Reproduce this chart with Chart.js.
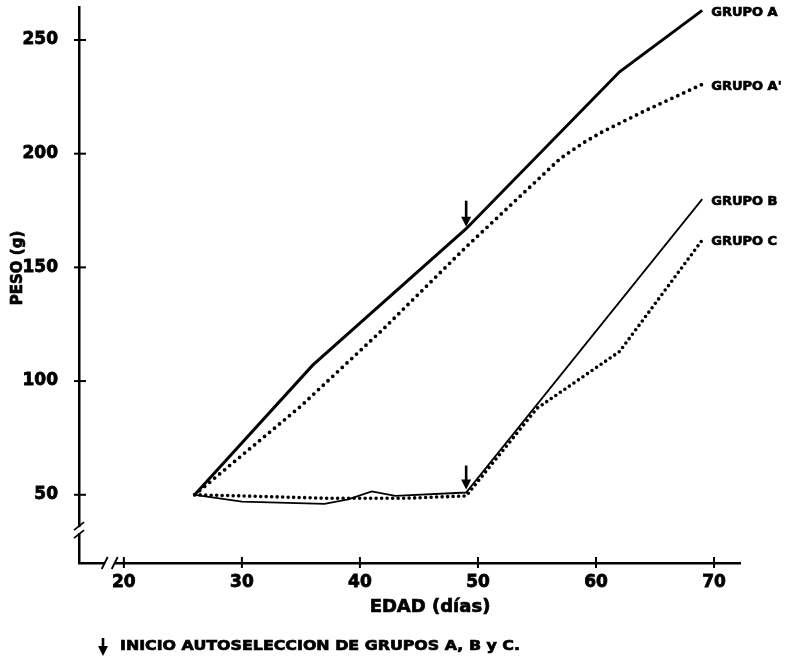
<!DOCTYPE html>
<html><head><meta charset="utf-8">
<script src="https://cdn.jsdelivr.net/npm/chart.js@4.4.0/dist/chart.umd.min.js"></script>
<style>html,body{margin:0;padding:0;background:#fff;}canvas{display:block}</style>
</head><body>
<canvas id="c" width="793" height="661"></canvas>
<script>
// ---- data ----
const xTicks = [20, 30, 40, 50, 60, 70];
const yTicks = [50, 100, 150, 200, 250];

const grupoA_x  = [26, 36, 49, 62, 69];
const grupoA_y  = [50, 107, 167, 236, 263];

const grupoA2_x = [26, 35, 42, 49, 57, 59, 60.5, 64, 66.5, 69];
const grupoA2_y = [50, 89, 123, 159, 198, 205, 209.5, 218.5, 224.5, 230.5];

const grupoB_x  = [26, 30, 37, 39, 41, 43, 49, 69];
const grupoB_y  = [50, 47, 46, 48, 51.5, 49.5, 51, 180];

const grupoC_x  = [26, 30, 37, 44, 49, 55, 62, 69];
const grupoC_y  = [50, 49.5, 48.5, 48.5, 49.5, 88, 113, 162];

const seriesNames = ['GRUPO A', "GRUPO A'", 'GRUPO B', 'GRUPO C'];
const arrowX = 49;   // inicio autoselección
const footnote = 'INICIO AUTOSELECCION DE GRUPOS A, B y C.';
const xTitle = 'EDAD (días)';
const yTitle = 'PESO (g)';

const pts = (xs, ys) => xs.map((x, i) => ({x, y: ys[i]}));
const BOLD = 'DejaVu Sans';

function heavyText(ctx, text, x, y) {
  ctx.lineWidth = 0.7; ctx.strokeText(text, x, y); ctx.fillText(text, x, y);
}
function fitText(ctx, text, x, y, width) {
  const w = ctx.measureText(text).width;
  ctx.save(); ctx.translate(x, y); ctx.scale(width / w, 1); heavyText(ctx, text, 0, 0); ctx.restore();
}

const overlay = {
  id: 'overlay',
  afterDraw(chart) {
    const {ctx, scales: {x, y}, chartArea: ca} = chart;
    ctx.save();
    ctx.strokeStyle = '#000'; ctx.fillStyle = '#000';
    // tick marks crossing the axes
    ctx.lineWidth = 2;
    yTicks.forEach(v => { const py = y.getPixelForValue(v);
      ctx.beginPath(); ctx.moveTo(ca.left - 5, py); ctx.lineTo(ca.left + 7, py); ctx.stroke(); });
    xTicks.forEach(v => { const px = x.getPixelForValue(v);
      ctx.beginPath(); ctx.moveTo(px, ca.bottom - 6); ctx.lineTo(px, ca.bottom + 5); ctx.stroke(); });
    // axis breaks
    const by = y.getPixelForValue(34);
    ctx.fillStyle = '#fff'; ctx.fillRect(ca.left - 3, by - 4, 6, 6); ctx.fillStyle = '#000';
    ctx.lineWidth = 1.8;
    [-6, 2].forEach(o => { ctx.beginPath(); ctx.moveTo(ca.left - 5, by + o + 5); ctx.lineTo(ca.left + 5, by + o - 3); ctx.stroke(); });
    const bx = x.getPixelForValue(18.8);
    ctx.fillStyle = '#fff'; ctx.fillRect(bx - 5, ca.bottom - 3, 10, 6); ctx.fillStyle = '#000';
    [-5, 5].forEach(o => { ctx.beginPath(); ctx.moveTo(bx + o - 3, ca.bottom + 6); ctx.lineTo(bx + o + 3, ca.bottom - 6); ctx.stroke(); });
    // axis titles
    ctx.textBaseline = 'middle'; ctx.textAlign = 'center';
    ctx.font = 'bold 18px ' + BOLD;
    heavyText(ctx, xTitle, 430, 607);
    ctx.save(); ctx.translate(18, 268); ctx.rotate(-Math.PI / 2);
    ctx.font = 'bold 15px ' + BOLD; heavyText(ctx, yTitle, 0, 0); ctx.restore();
    // group labels at line ends
    ctx.font = 'bold 13px ' + BOLD; ctx.textAlign = 'left';
    chart.data.datasets.forEach((ds, i) => {
      const last = ds.data[ds.data.length - 1];
      heavyText(ctx, seriesNames[i], x.getPixelForValue(last.x) + 9, y.getPixelForValue(last.y) + 2);
    });
    // arrows at the start of self-selection
    const arrow = (px, tipY, len) => {
      ctx.lineWidth = 2.6;
      ctx.beginPath(); ctx.moveTo(px, tipY - len); ctx.lineTo(px, tipY - 6); ctx.stroke();
      ctx.beginPath(); ctx.moveTo(px - 5, tipY - 10); ctx.lineTo(px + 5, tipY - 10); ctx.lineTo(px, tipY); ctx.closePath(); ctx.fill();
    };
    const ax = x.getPixelForValue(arrowX);
    arrow(ax, y.getPixelForValue(grupoA_y[2]) - 2, 26);
    arrow(ax, y.getPixelForValue(grupoB_y[6]) - 3, 24);
    // footnote
    arrow(103, 656, 18);
    ctx.font = 'bold 14px ' + BOLD; ctx.textBaseline = 'middle'; ctx.textAlign = 'left';
    fitText(ctx, footnote, 120, 646, 400);
    ctx.restore();
  }
};

const tickFont = {family: BOLD, size: 17, weight: 'bold'};

new Chart(document.getElementById('c'), {
  type: 'line',
  data: {
    datasets: [
      {label: seriesNames[0], data: pts(grupoA_x, grupoA_y), borderColor: '#000', borderWidth: 3, pointRadius: 0, tension: 0},
      {label: seriesNames[1], data: pts(grupoA2_x, grupoA2_y), borderColor: '#000', borderWidth: 3.8, borderDash: [0, 6.5], borderCapStyle: 'round', pointRadius: 0, tension: 0},
      {label: seriesNames[2], data: pts(grupoB_x, grupoB_y), borderColor: '#000', borderWidth: 1.8, pointRadius: 0, tension: 0},
      {label: seriesNames[3], data: pts(grupoC_x, grupoC_y), borderColor: '#000', borderWidth: 3.6, borderDash: [0, 5.5], borderCapStyle: 'round', pointRadius: 0, tension: 0}
    ]
  },
  options: {
    responsive: false, animation: false, devicePixelRatio: 1,
    layout: {padding: {top: 7, right: 53, left: 0, bottom: 44}},
    plugins: {legend: {display: false}, tooltip: {enabled: false}},
    scales: {
      x: {
        type: 'linear', min: 16.2, max: 72.2,
        grid: {display: false, drawTicks: false},
        border: {display: true, color: '#000', width: 2.5},
        afterBuildTicks: s => { s.ticks = xTicks.map(v => ({value: v})); },
        afterFit: s => { s.height = 54; s.paddingLeft = 0; s.paddingRight = 0; },
        ticks: {color: '#000', padding: 9, autoSkip: false, maxRotation: 0, font: tickFont, textStrokeColor: '#000', textStrokeWidth: 0.8},
        title: {display: false}
      },
      y: {
        type: 'linear', min: 20, max: 264.5,
        grid: {display: false, drawTicks: false},
        border: {display: true, color: '#000', width: 2.5},
        afterBuildTicks: s => { s.ticks = yTicks.map(v => ({value: v})); },
        afterFit: s => { s.width = 79; s.paddingTop = 0; s.paddingBottom = 0; },
        ticks: {color: '#000', padding: 21, font: tickFont, textStrokeColor: '#000', textStrokeWidth: 0.8},
        title: {display: false}
      }
    }
  },
  plugins: [overlay]
});
</script>
</body></html>
